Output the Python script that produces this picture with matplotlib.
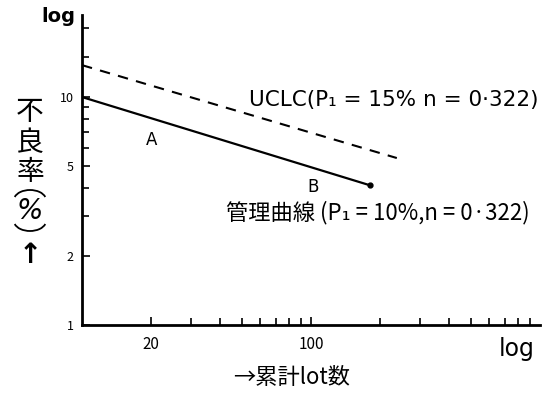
import matplotlib
matplotlib.use("Agg")
import matplotlib.pyplot as plt
from matplotlib.patches import Arc
from matplotlib.ticker import FixedLocator, NullFormatter

plt.rcParams['font.family'] = ['Noto Sans CJK JP', 'DejaVu Sans']

# 管理曲線 (P1 = 10%, n = 0.322) : 累計lot数 vs 不良率 (%)
ctrl_lots = [10, 181]
ctrl_rate = [10.0, 4.1]
# UCLC (P1 = 15%, n = 0.322)
uclc_lots = [10, 237]
uclc_rate = [13.8, 5.4]

x_major = [20, 100]
x_minor = [30, 40, 50, 60, 70, 80, 90, 200, 300, 400, 500, 600, 700, 800, 900]
y_major = [1, 2, 5, 10]
y_minor = [3, 4, 6, 7, 8, 9, 15, 20]

W, H = 556, 407
def fx(px):
    return px / W
def fy(py):
    return 1 - py / H

fig = plt.figure(figsize=(W / 100, H / 100), dpi=100)
ax = fig.add_axes([fx(82), fy(325), fx(540) - fx(82), fy(15) - fy(325)])

ax.plot(ctrl_lots, ctrl_rate, color="black", lw=1.6)
ax.plot(ctrl_lots[-1:], ctrl_rate[-1:], "o", color="black", ms=3.5)
ax.plot(uclc_lots, uclc_rate, color="black", lw=1.5, dashes=(5, 4))

ax.set_xscale("log")
ax.set_yscale("log")
ax.set_xlim(10, 1000)
ax.set_ylim(1, 22.9)

ax.xaxis.set_major_locator(FixedLocator(x_major))
ax.xaxis.set_minor_locator(FixedLocator(x_minor))
ax.set_xticklabels([str(v) for v in x_major])
ax.xaxis.set_minor_formatter(NullFormatter())
ax.yaxis.set_major_locator(FixedLocator(y_major))
ax.yaxis.set_minor_locator(FixedLocator(y_minor))
ax.set_yticklabels([str(v) for v in y_major])
ax.yaxis.set_minor_formatter(NullFormatter())

ax.tick_params(which="both", direction="in", width=1.2, color="black")
ax.tick_params(which="major", length=6)
ax.tick_params(which="minor", length=5)
ax.tick_params(axis="x", labelsize=11, pad=8)
ax.tick_params(axis="y", labelsize=9, pad=6)

for s in ["top", "right"]:
    ax.spines[s].set_visible(False)
for s in ["left", "bottom"]:
    ax.spines[s].set_linewidth(2)

fig.text(fx(152), fy(140), "A", fontsize=12, ha="center", va="center", family="DejaVu Sans")
fig.text(fx(313), fy(187), "B", fontsize=12, ha="center", va="center", family="DejaVu Sans")

fig.text(fx(394), fy(100), "UCLC(P\u2081 = 15% n = 0\u00b7322)", fontsize=15.5,
         ha="center", va="center", family="DejaVu Sans")
fig.text(fx(378), fy(213), "管理曲線 (P\u2081 = 10%,n = 0\u00b7322)", fontsize=16,
         ha="center", va="center", family=["Noto Sans CJK JP", "DejaVu Sans"])

# y label, stacked vertically: 不 良 率 (%) ↑
for ch, py in [("不", 112), ("良", 143), ("率", 172)]:
    fig.text(fx(30), fy(py), ch, fontsize=20, ha="center", va="center")
# vertical parentheses drawn as arcs
fig.add_artist(Arc((fx(30), fy(200)), 32 / W, 20 / H, theta1=15, theta2=165,
                   transform=fig.transFigure, color="black", lw=1.3))
fig.add_artist(Arc((fx(30), fy(221)), 32 / W, 20 / H, theta1=195, theta2=345,
                   transform=fig.transFigure, color="black", lw=1.3))
fig.text(fx(30), fy(211), "%", fontsize=20, ha="center", va="center", family="DejaVu Sans",
         style="italic")
fig.text(fx(30), fy(255), "\u2191", fontsize=20, fontweight="bold", ha="center", va="center",
         family="DejaVu Sans")

fig.text(fx(58), fy(17), "log", fontsize=14, fontweight="bold", ha="center", va="center",
         family="DejaVu Sans")
fig.text(fx(517), fy(349), "log", fontsize=17, ha="center", va="center", family="DejaVu Sans")
fig.text(fx(292), fy(378), "\u2192累計lot数", fontsize=16, ha="center", va="center")

fig.savefig("out.png", dpi=100)
